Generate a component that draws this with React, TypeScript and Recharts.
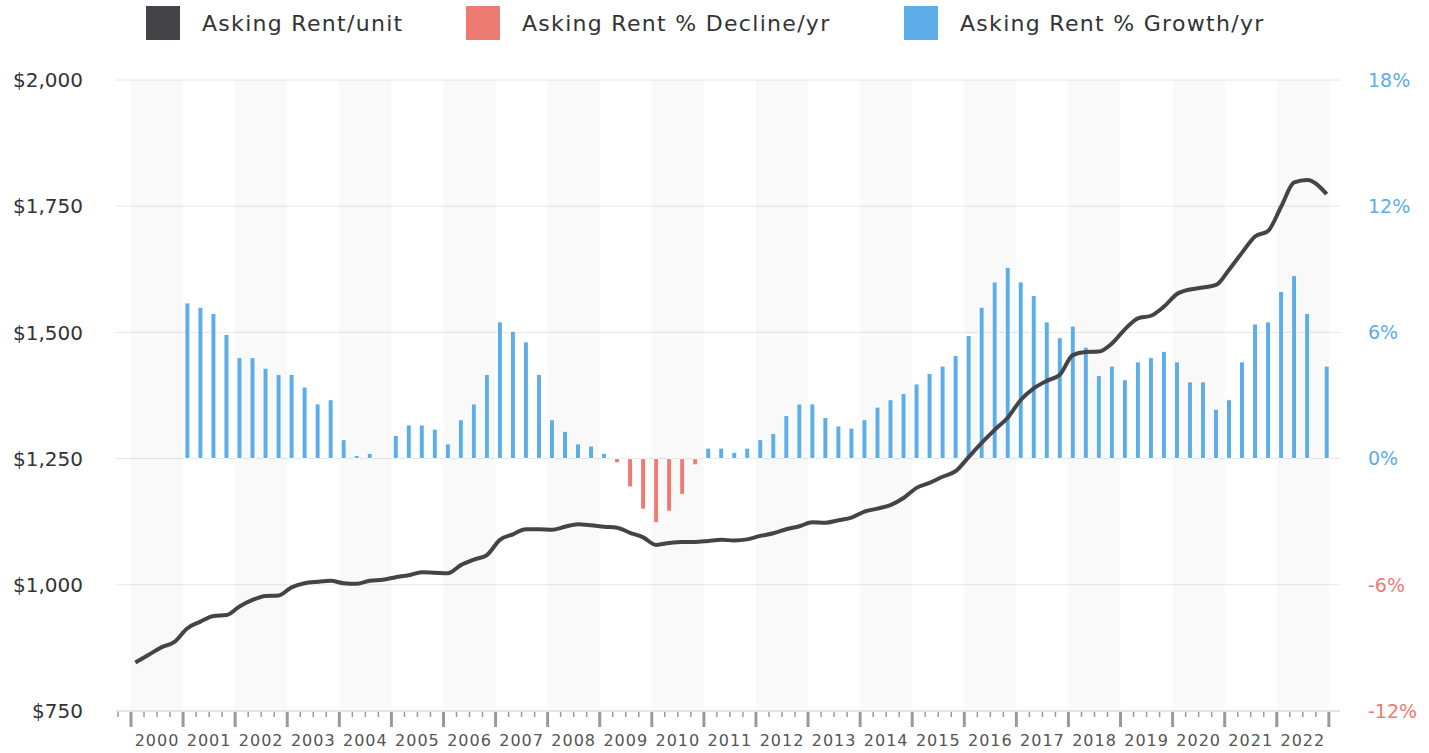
import { Bar, CartesianGrid, ComposedChart, Line, ReferenceArea, XAxis, YAxis } from 'recharts';

// quarterly periods, last point is a December reading
const periods = [
  '2000 Q1', '2000 Q2', '2000 Q3', '2000 Q4',
  '2001 Q1', '2001 Q2', '2001 Q3', '2001 Q4',
  '2002 Q1', '2002 Q2', '2002 Q3', '2002 Q4',
  '2003 Q1', '2003 Q2', '2003 Q3', '2003 Q4',
  '2004 Q1', '2004 Q2', '2004 Q3', '2004 Q4',
  '2005 Q1', '2005 Q2', '2005 Q3', '2005 Q4',
  '2006 Q1', '2006 Q2', '2006 Q3', '2006 Q4',
  '2007 Q1', '2007 Q2', '2007 Q3', '2007 Q4',
  '2008 Q1', '2008 Q2', '2008 Q3', '2008 Q4',
  '2009 Q1', '2009 Q2', '2009 Q3', '2009 Q4',
  '2010 Q1', '2010 Q2', '2010 Q3', '2010 Q4',
  '2011 Q1', '2011 Q2', '2011 Q3', '2011 Q4',
  '2012 Q1', '2012 Q2', '2012 Q3', '2012 Q4',
  '2013 Q1', '2013 Q2', '2013 Q3', '2013 Q4',
  '2014 Q1', '2014 Q2', '2014 Q3', '2014 Q4',
  '2015 Q1', '2015 Q2', '2015 Q3', '2015 Q4',
  '2016 Q1', '2016 Q2', '2016 Q3', '2016 Q4',
  '2017 Q1', '2017 Q2', '2017 Q3', '2017 Q4',
  '2018 Q1', '2018 Q2', '2018 Q3', '2018 Q4',
  '2019 Q1', '2019 Q2', '2019 Q3', '2019 Q4',
  '2020 Q1', '2020 Q2', '2020 Q3', '2020 Q4',
  '2021 Q1', '2021 Q2', '2021 Q3', '2021 Q4',
  '2022 Q1', '2022 Q2', '2022 Q3', '2022-12',
];

// asking rent per unit ($)
const rent = [
  846, 861, 876, 887,
  914, 927, 938, 940,
  957, 970, 978, 979,
  995, 1003, 1006, 1008,
  1003, 1002, 1008, 1010,
  1015, 1019, 1025, 1024,
  1023, 1039, 1050, 1059,
  1089, 1100, 1110, 1110,
  1109, 1115, 1120, 1118,
  1115, 1113, 1103, 1094,
  1079, 1083, 1085, 1085,
  1087, 1089, 1088, 1090,
  1097, 1102, 1110, 1116,
  1124, 1123, 1128, 1133,
  1145, 1151, 1158, 1172,
  1192, 1202, 1214, 1225,
  1253, 1281, 1307, 1331,
  1366, 1389, 1404, 1416,
  1455, 1461, 1462, 1478,
  1506, 1528, 1533, 1551,
  1576, 1585, 1589, 1594,
  1624, 1658, 1690, 1701,
  1749, 1797, 1802, 1774,
];

// asking rent change, % per year
const rentChange: (number | null)[] = [
  null, null, null, null,
  7.4, 7.2, 6.9, 5.9,
  4.8, 4.8, 4.3, 4.0,
  4.0, 3.4, 2.6, 2.8,
  0.9, 0.15, 0.25, 0,
  1.1, 1.6, 1.6, 1.4,
  0.7, 1.85, 2.6, 4.0,
  6.5, 6.05, 5.55, 4.0,
  1.85, 1.3, 0.7, 0.6,
  0.25, -0.2, -1.35, -2.4,
  -3.05, -2.5, -1.7, -0.3,
  0.5, 0.5, 0.3, 0.5,
  0.9, 1.2, 2.05, 2.6,
  2.6, 1.95, 1.55, 1.45,
  1.85, 2.45, 2.8, 3.1,
  3.55, 4.05, 4.4, 4.9,
  5.85, 7.2, 8.4, 9.1,
  8.4, 7.75, 6.5, 5.75,
  6.3, 5.3, 3.95, 4.4,
  3.75, 4.6, 4.8, 5.1,
  4.6, 3.65, 3.65, 2.35,
  2.8, 4.6, 6.4, 6.5,
  7.95, 8.7, 6.9, 4.4,
];

const years = [
  2000, 2001, 2002, 2003, 2004, 2005, 2006, 2007, 2008, 2009, 2010, 2011,
  2012, 2013, 2014, 2015, 2016, 2017, 2018, 2019, 2020, 2021, 2022,
];

const rentTicks = [750, 1000, 1250, 1500, 1750, 2000];
const pctTicks = [-12, -6, 0, 6, 12, 18];

const DARK = '#434348';
const RED = '#ee7b73';
const BLUE = '#5dade8';

// period string -> fractional year
const toYear = (p: string) => {
  if (p.includes('Q')) {
    const [y, q] = p.split(' Q').map(Number);
    return y + (q - 1) / 4 + 1 / 12;
  }
  const [y, m] = p.split('-').map(Number);
  return y + (m - 1) / 12 + 1 / 24;
};

const data = periods.map((p, i) => {
  const c = rentChange[i];
  return {
    t: toYear(p),
    rent: rent[i],
    growth: c != null && c > 0 ? c : 0,
    decline: c != null && c < 0 ? c : 0,
  };
});

const quarterTicks = [years[0] - 0.25];
years.forEach(y => quarterTicks.push(y, y + 0.25, y + 0.5, y + 0.75));
quarterTicks.push(years[years.length - 1] + 1);

const QuarterTick = ({ x, y, payload }: any) => {
  const v = payload.value as number;
  const frac = v - Math.floor(v);
  const major = Math.abs(frac) < 1e-6;
  const mid = Math.abs(frac - 0.5) < 1e-6;
  return (
    <g>
      <line
        x1={x}
        x2={x}
        y1={y + 1}
        y2={y + (major ? 16 : 6)}
        stroke="#9a9a9a"
        strokeWidth={major ? 3 : 1.5}
      />
      {mid && (
        <text x={x} y={y + 35} textAnchor="middle" fontSize={16} fill="#555" letterSpacing={1}>
          {Math.floor(v)}
        </text>
      )}
    </g>
  );
};

const PctTick = ({ x, y, payload }: any) => {
  const v = payload.value as number;
  return (
    <text x={x} y={y} dy="0.355em" textAnchor="start" fontSize={19} fill={v < 0 ? RED : BLUE}>
      {v}%
    </text>
  );
};

const legendItems = [
  { name: 'Asking Rent/unit', color: DARK, left: 146 },
  { name: 'Asking Rent % Decline/yr', color: RED, left: 466 },
  { name: 'Asking Rent % Growth/yr', color: BLUE, left: 904 },
];

export default function App() {
  return (
    <div
      style={{
        position: 'absolute',
        left: 0,
        top: 0,
        width: 1429,
        height: 753,
        fontFamily: '"DejaVu Sans", sans-serif',
        background: '#fff',
      }}
    >
      {legendItems.map(item => (
        <div
          key={item.name}
          style={{
            position: 'absolute',
            top: 6,
            left: item.left,
            display: 'flex',
            alignItems: 'center',
            height: 34,
          }}
        >
          <div style={{ width: 34, height: 34, background: item.color }} />
          <span style={{ marginLeft: 22, fontSize: 22, color: '#333', letterSpacing: 1.3 }}>
            {item.name}
          </span>
        </div>
      ))}
      <ComposedChart
        width={1429}
        height={753}
        data={data}
        stackOffset="sign"
        margin={{ top: 80, right: 0, bottom: 0, left: 0 }}
      >
        {years
          .filter(y => y % 2 === 0)
          .map(y => (
            <ReferenceArea
              key={y}
              x1={y}
              x2={y + 1}
              yAxisId="rent"
              fill="#000"
              fillOpacity={0.025}
              stroke="none"
            />
          ))}
        <CartesianGrid yAxisId="rent" vertical={false} stroke="#e6e6e6" />
        <XAxis
          dataKey="t"
          type="number"
          domain={[1999.712, 2023.214]}
          allowDataOverflow
          ticks={quarterTicks}
          interval={0}
          tick={<QuarterTick />}
          tickLine={false}
          tickSize={0}
          tickMargin={0}
          height={42}
          stroke="#ccd6eb"
        />
        <YAxis
          yAxisId="rent"
          orientation="left"
          domain={[750, 2000]}
          ticks={rentTicks}
          width={116}
          axisLine={false}
          tickLine={false}
          tickSize={0}
          tickMargin={33}
          tick={{ fontSize: 20, fill: '#333' }}
          tickFormatter={(v: number) => '$' + v.toLocaleString('en-US')}
        />
        <YAxis
          yAxisId="pct"
          orientation="right"
          domain={[-12, 18]}
          ticks={pctTicks}
          width={89}
          axisLine={false}
          tickLine={false}
          tickSize={0}
          tickMargin={28}
          tick={<PctTick />}
        />
        <Bar
          yAxisId="pct"
          dataKey="decline"
          name="Asking Rent % Decline/yr"
          stackId="pct"
          fill={RED}
          stroke="#fff"
          strokeWidth={1}
          barSize={5}
          isAnimationActive={false}
        />
        <Bar
          yAxisId="pct"
          dataKey="growth"
          name="Asking Rent % Growth/yr"
          stackId="pct"
          fill={BLUE}
          stroke="#fff"
          strokeWidth={1}
          barSize={5}
          isAnimationActive={false}
        />
        <Line
          yAxisId="rent"
          dataKey="rent"
          name="Asking Rent/unit"
          type="monotone"
          stroke={DARK}
          strokeWidth={4}
          dot={false}
          isAnimationActive={false}
        />
      </ComposedChart>
    </div>
  );
}
